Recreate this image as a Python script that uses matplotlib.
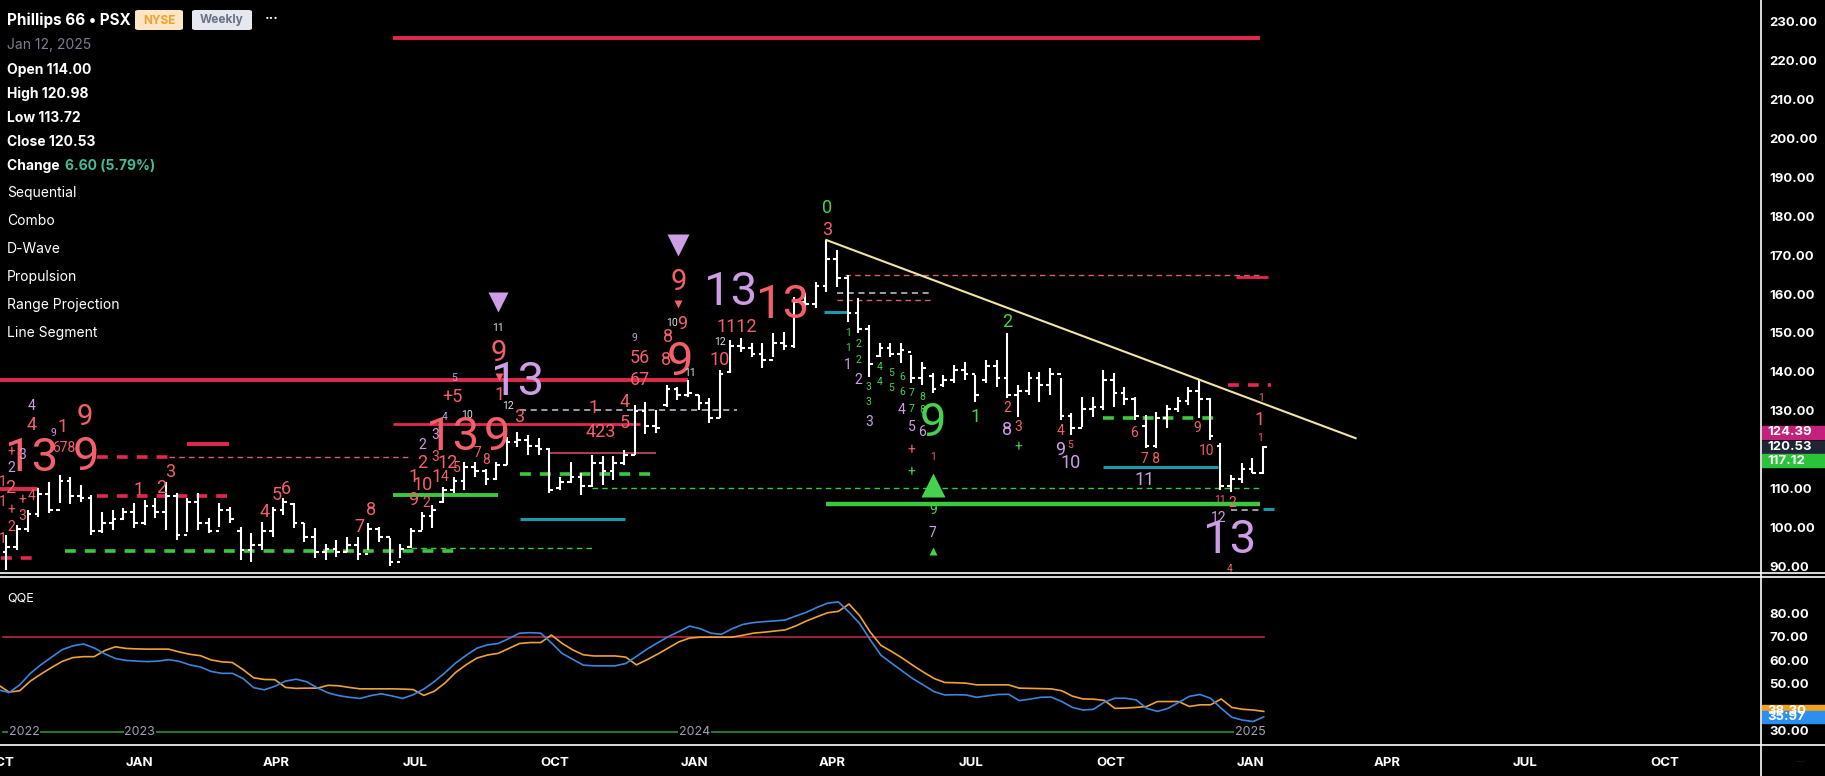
"""Phillips 66 weekly chart with TD counts and QQE panel."""

import datetime as dt

import matplotlib
matplotlib.use("Agg")
import matplotlib.pyplot as plt
import matplotlib.dates as mdates
import matplotlib.transforms as mtransforms
from matplotlib.lines import Line2D
from matplotlib.patches import FancyBboxPatch, Rectangle
import numpy as np

plt.rcParams["font.family"] = ["Inter", "DejaVu Sans"]

# ---- data -------------------------------------------------------------
FIRST_BAR = dt.date(2022, 9, 30)  # weekly bars, one per week

HIGHS = [95.0, 98.0, 100.6, 104.4, 110.0, 111.7, 113.4, 113.0, 110.8, 108.3,
         104.0, 104.4, 104.9, 106.1, 107.0, 107.4, 111.7, 108.7, 107.4, 108.7,
         102.3, 106.1, 105.3, 100.1, 98.4, 101.4, 105.3, 107.4, 106.1, 101.0,
         99.7, 95.8, 96.7, 97.6, 97.6, 101.0, 100.1, 97.1, 95.8, 99.7,
         104.0, 105.7, 110.4, 113.0, 116.9, 116.9, 115.1, 116.9, 123.3, 124.6,
         123.7, 122.9, 120.3, 113.0, 116.9, 113.9, 118.6, 118.2, 118.2, 119.9,
         131.4, 132.3, 130.2, 136.6, 136.2, 137.9, 134.0, 133.2, 140.5, 148.2,
         148.6, 147.3, 147.3, 149.9, 150.3, 159.3, 160.2, 163.2, 173.9, 171.3,
         164.9, 158.9, 152.0, 147.3, 147.3, 147.3, 144.3, 142.6, 139.6, 139.2,
         141.7, 142.6, 139.2, 143.0, 143.0, 149.9, 136.6, 140.0, 140.0, 140.9,
         138.3, 129.3, 133.6, 133.6, 140.5, 139.6, 136.2, 133.6, 128.9, 129.7,
         131.4, 133.6, 136.2, 137.9, 133.2, 121.6, 113.4, 116.4, 117.7, 120.98]
LOWS = [89.0, 89.0, 94.0, 98.8, 102.7, 103.6, 106.2, 106.0, 106.6, 98.0,
        98.4, 99.3, 101.9, 99.7, 100.6, 102.3, 99.3, 96.7, 98.8, 99.3,
        98.4, 100.1, 101.0, 91.6, 91.1, 94.1, 97.6, 103.1, 99.7, 96.3,
        92.0, 91.6, 92.4, 93.7, 91.6, 94.1, 96.3, 89.9, 92.0, 94.6,
        99.3, 99.7, 106.1, 108.7, 109.6, 113.0, 110.9, 112.2, 116.0, 120.7,
        118.6, 118.6, 108.7, 109.6, 111.3, 108.3, 110.4, 110.9, 112.2, 116.0,
        118.6, 124.0, 124.2, 131.0, 132.7, 133.6, 130.2, 126.7, 128.0, 139.6,
        145.2, 143.9, 140.9, 143.9, 145.6, 146.0, 155.9, 156.3, 160.6, 161.9,
        152.9, 149.9, 138.7, 143.9, 143.9, 142.2, 137.0, 136.6, 134.5, 136.2,
        137.0, 138.0, 132.3, 137.0, 136.2, 133.2, 128.4, 134.0, 132.3, 134.0,
        127.6, 123.7, 125.9, 128.4, 130.2, 131.0, 131.4, 127.6, 120.3, 120.3,
        125.4, 129.7, 131.4, 128.0, 122.4, 109.6, 109.1, 111.3, 113.9, 113.72]
OPENS = [90.5, 93.5, 95.0, 99.5, 103.5, 108.5, 104.5, 112.0, 108.0, 107.5,
         99.0, 101.0, 102.0, 104.0, 101.0, 105.5, 104.0, 108.0, 98.0, 106.5,
         101.0, 99.0, 104.5, 99.0, 94.0, 95.5, 99.0, 104.5, 106.0, 101.0,
         97.5, 93.5, 94.5, 93.5, 95.5, 93.0, 99.5, 97.5, 91.0, 95.0,
         99.0, 103.0, 106.5, 109.5, 112.0, 115.5, 114.5, 112.5, 116.0, 122.0,
         122.5, 121.0, 120.0, 110.0, 111.5, 113.0, 110.5, 116.5, 114.5, 116.5,
         118.5, 130.0, 126.0, 131.5, 135.5, 134.0, 134.0, 132.0, 128.0, 140.0,
         146.5, 146.0, 144.5, 143.0, 147.5, 146.5, 158.0, 157.5, 162.0, 169.0,
         164.0, 155.0, 151.0, 144.0, 146.0, 144.5, 145.0, 138.5, 139.0, 136.5,
         138.0, 140.5, 139.5, 138.0, 141.5, 138.5, 134.0, 135.0, 138.5, 136.5,
         139.5, 128.5, 125.5, 130.5, 131.0, 138.0, 134.5, 133.0, 126.0, 121.0,
         128.0, 130.5, 132.5, 135.0, 133.0, 121.0, 110.5, 112.5, 115.0, 114.00]
CLOSES = [93.5, 95.0, 99.5, 103.5, 108.5, 104.5, 112.0, 108.0, 107.5, 99.0,
          101.0, 102.0, 104.0, 101.0, 105.5, 104.0, 108.0, 98.0, 106.5, 101.0,
          99.0, 104.5, 102.0, 94.0, 95.5, 99.0, 104.5, 106.5, 101.0, 97.5,
          93.5, 94.5, 93.5, 95.5, 93.0, 99.5, 97.5, 91.0, 94.5, 99.0,
          103.0, 104.5, 109.5, 112.0, 115.5, 114.5, 112.5, 116.0, 122.0, 122.5,
          121.0, 120.0, 109.5, 111.5, 113.0, 110.5, 116.5, 114.5, 116.5, 118.5,
          130.0, 126.0, 125.5, 135.5, 134.0, 134.5, 132.0, 128.0, 139.5, 146.5,
          146.0, 144.5, 143.0, 147.5, 146.5, 158.0, 157.5, 162.0, 169.0, 164.0,
          155.0, 151.0, 142.0, 146.0, 144.5, 145.5, 138.5, 141.0, 135.5, 138.0,
          140.5, 139.5, 134.0, 141.5, 138.5, 134.0, 135.0, 138.5, 136.5, 139.5,
          128.5, 125.5, 130.5, 131.0, 138.0, 134.5, 133.0, 128.5, 121.0, 128.0,
          130.5, 132.5, 135.0, 133.0, 123.5, 110.5, 112.5, 115.0, 114.0, 120.53]

QQE_FAST = [47.5, 46.3, 49.6, 54.5, 58.2, 61.4, 64.6, 66.2, 67.0, 65.3,
            62.8, 60.8, 60.0, 59.7, 59.5, 59.7, 60.3, 59.6, 58.1, 57.2,
            55.3, 54.5, 54.5, 52.3, 48.4, 47.5, 49.0, 51.2, 52.0, 50.9,
            48.3, 46.2, 45.0, 44.3, 43.8, 45.0, 45.8, 44.9, 43.8, 45.4,
            47.8, 51.0, 54.8, 58.9, 62.2, 65.2, 66.6, 67.2, 69.3, 71.6,
            71.8, 71.6, 67.5, 63.0, 60.5, 58.0, 57.7, 57.7, 57.7, 58.7,
            61.7, 64.8, 67.5, 70.1, 72.3, 74.6, 73.5, 71.6, 71.1, 73.5,
            75.3, 76.1, 76.5, 76.8, 77.2, 78.9, 80.5, 82.6, 84.4, 84.9,
            80.5, 75.7, 68.7, 62.2, 58.8, 55.5, 52.2, 49.5, 46.7, 45.3,
            45.4, 45.3, 44.3, 44.9, 45.5, 45.6, 42.9, 43.5, 44.3, 44.4,
            42.5, 40.0, 38.9, 39.2, 42.2, 43.9, 43.9, 43.2, 39.6, 38.3,
            39.6, 42.1, 44.7, 45.5, 43.9, 39.6, 35.8, 34.6, 34.0, 35.97]
QQE_SLOW = [49.5, 46.5, 47.1, 51.2, 54.2, 57.0, 59.6, 61.2, 61.6, 61.6,
            64.2, 65.8, 65.1, 64.9, 64.8, 64.8, 64.8, 63.6, 62.6, 62.0,
            60.2, 59.4, 59.1, 56.1, 52.6, 51.9, 51.8, 48.5, 48.1, 48.2,
            48.2, 49.4, 49.2, 48.5, 47.9, 47.9, 47.9, 47.9, 47.8, 47.6,
            45.1, 46.9, 50.4, 54.9, 58.2, 61.0, 62.3, 63.0, 65.1, 67.2,
            67.6, 67.6, 70.8, 67.3, 64.5, 62.4, 61.9, 61.9, 61.9, 61.4,
            58.1, 60.3, 62.7, 65.3, 67.9, 69.5, 69.9, 69.9, 69.9, 69.9,
            70.7, 71.6, 72.0, 72.5, 73.0, 74.7, 76.8, 78.6, 80.3, 80.9,
            84.0, 79.0, 72.0, 66.4, 63.8, 61.0, 57.9, 55.0, 52.3, 50.6,
            50.5, 50.3, 49.6, 49.6, 49.6, 49.6, 48.2, 48.1, 48.0, 47.9,
            47.1, 44.8, 43.6, 43.5, 43.0, 39.6, 39.7, 40.0, 40.4, 42.5,
            42.5, 42.5, 40.4, 41.1, 41.1, 43.6, 40.0, 39.2, 38.9, 38.30]

# horizontal levels: (from bar, to bar, price, style)
LEVELS = [
    (37.3, 118.7, 225.8, "red_thick"),
    (-1.0, 65.0, 138.0, "red_thick"),
    (37.3, 60.5, 126.6, "red_mid"),
    (52.0, 62.0, 119.2, "red_thin"),
    (18.0, 21.9, 121.3, "red_thick"),
    (-1.0, 4.0, 109.9, "red_thick"),
    (9.5, 16.3, 118.1, "red_dash_thick"),
    (16.3, 39.0, 118.1, "pink_dash"),
    (9.5, 22.3, 108.1, "red_dash_thick"),
    (0.5, 3.8, 92.0, "red_dash_thick"),
    (6.5, 43.3, 93.9, "green_dash_thick"),
    (39.0, 56.0, 94.6, "green_dash"),
    (37.3, 47.2, 108.3, "green_solid"),
    (49.2, 59.1, 102.1, "teal"),
    (49.2, 61.5, 113.7, "green_dash_thick"),
    (56.0, 118.7, 110.0, "green_dash"),
    (49.2, 69.6, 130.2, "gray_dash"),
    (79.8, 118.7, 164.9, "pink_dash"),
    (116.5, 119.5, 164.5, "red_mid"),
    (79.0, 88.0, 160.3, "gray_dash"),
    (79.0, 88.0, 158.5, "pink_dash"),
    (77.8, 80.0, 155.4, "teal"),
    (78.0, 118.7, 105.9, "green_thick"),
    (104.0, 114.8, 115.5, "teal"),
    (104.0, 114.5, 128.1, "green_dash_thick"),
    (115.7, 119.8, 136.6, "red_dash_thick"),
    (116.0, 119.0, 104.4, "gray_dash"),
    (119.0, 120.0, 104.7, "teal"),
]

# trend line (bar index, price)
TREND_BARS = [78.0, 127.7]
TREND_PRICES = [173.9, 122.9]

# count labels: (bar, price, text, colour, size)
COUNTS = [
    (3.4, 117.8, "13", "red", "xl"), (8.5, 118.1, "9", "red", "xl"),
    (8.4, 128.4, "9", "red", "l"), (3.4, 126.3, "4", "red", "m"),
    (3.4, 131.2, "4", "purple", "s"), (6.3, 125.8, "1", "red", "m"),
    (5.4, 124.2, "9", "purple", "xs"), (6.4, 120.4, "678", "red", "s"),
    (16.4, 114.2, "3", "red", "m"), (13.4, 109.6, "1", "red", "m"),
    (15.5, 110.1, "2", "red", "m"), (26.4, 108.3, "5", "red", "m"),
    (27.3, 109.8, "6", "red", "m"), (25.3, 103.9, "4", "red", "m"),
    (1.5, 115.2, "2", "purple", "s"), (2.5, 118.6, "3", "purple", "s"),
    (1.4, 110.1, "2", "red", "m"), (3.4, 108.0, "4", "red", "s"),
    (2.5, 102.9, "3", "red", "s"), (1.5, 100.0, "2", "red", "s"),
    (1.5, 104.4, "+", "red", "s"), (2.5, 107.0, "+", "red", "s"),
    (1.5, 119.4, "+", "red", "s"), (0.7, 111.6, "1", "red", "s"),
    (0.7, 106.5, "1", "red", "s"), (0.7, 97.0, "1", "red", "s"),
    (47.2, 151.3, "11", "white", "xs"), (47.2, 144.8, "9", "red", "l"),
    (49.0, 137.4, "13", "purple", "xl"), (47.3, 134.0, "1", "red", "m"),
    (48.1, 131.2, "12", "white", "xs"), (43.1, 138.4, "5", "purple", "xs"),
    (42.9, 133.5, "+5", "red", "m"), (42.2, 128.4, "4", "purple", "xs"),
    (44.3, 128.9, "10", "white", "xs"), (42.9, 123.2, "13", "red", "xl"),
    (47.1, 123.2, "9", "red", "xl"), (49.2, 128.4, "3", "red", "m"),
    (56.1, 130.7, "1", "red", "m"), (59.1, 132.2, "4", "red", "m"),
    (56.8, 124.5, "423", "red", "m"), (59.1, 126.8, "5", "red", "m"),
    (60.5, 143.5, "56", "red", "m"), (60.5, 137.9, "67", "red", "m"),
    (60.0, 148.7, "9", "purple", "xs"), (40.1, 110.9, "10", "red", "m"),
    (39.2, 107.0, "9", "red", "m"), (40.4, 106.3, "2", "red", "s"),
    (35.3, 104.4, "8", "red", "m"), (34.2, 100.0, "7", "red", "m"),
    (40.1, 121.2, "2", "purple", "s"), (41.3, 123.7, "3", "purple", "s"),
    (40.1, 116.5, "2", "red", "m"), (41.3, 118.0, "3", "red", "s"),
    (42.4, 116.5, "12", "red", "m"), (39.2, 112.9, "1", "red", "m"),
    (41.4, 112.9, "1", "red", "m"), (42.2, 112.9, "4", "red", "s"),
    (43.3, 115.2, "5", "red", "s"), (46.1, 117.3, "8", "red", "s"),
    (45.2, 119.0, "7", "red", "s"),
    (64.1, 163.1, "9", "red", "l"), (63.5, 152.5, "10", "white", "xs"),
    (64.5, 152.3, "9", "red", "m"), (63.1, 148.9, "8", "red", "m"),
    (64.3, 142.5, "9", "red", "xl"), (63.0, 143.0, "8", "red", "m"),
    (65.2, 139.7, "11", "white", "xs"), (69.0, 160.5, "13", "purple", "xl"),
    (73.9, 157.2, "13", "red", "xl"), (69.6, 151.5, "1112", "red", "m"),
    (68.0, 147.7, "12", "white", "xs"), (68.0, 143.0, "10", "red", "m"),
    (78.1, 182.1, "0", "green", "m"), (78.1, 176.5, "3", "red", "m"),
    (80.0, 150.0, "1", "green", "xs"), (80.0, 146.1, "1", "green", "xs"),
    (81.0, 147.1, "2", "green", "xs"), (81.0, 143.0, "2", "green", "xs"),
    (82.0, 136.1, "3", "green", "xs"), (82.0, 132.2, "3", "green", "xs"),
    (83.0, 141.2, "4", "green", "xs"), (83.0, 137.4, "4", "green", "xs"),
    (84.1, 139.7, "5", "green", "xs"), (84.1, 135.8, "5", "green", "xs"),
    (85.1, 138.6, "6", "green", "xs"), (85.1, 134.8, "6", "green", "xs"),
    (86.0, 134.5, "7", "green", "xs"), (87.0, 133.5, "8", "green", "xs"),
    (86.0, 130.5, "7", "green", "xs"), (87.0, 130.2, "8", "green", "xs"),
    (80.0, 141.7, "1", "purple", "s"), (81.0, 137.9, "2", "purple", "s"),
    (82.0, 127.1, "3", "purple", "s"), (85.1, 130.2, "4", "purple", "s"),
    (86.0, 125.8, "5", "purple", "s"), (87.0, 124.5, "6", "purple", "s"),
    (88.0, 126.8, "9", "green", "xl"), (86.0, 119.9, "+", "red", "s"),
    (86.0, 114.2, "+", "green", "s"), (88.0, 118.1, "1", "red", "xs"),
    (88.0, 104.4, "9", "green", "s"), (88.0, 98.5, "7", "purple", "s"),
    (95.0, 152.8, "2", "green", "m"), (92.0, 128.4, "1", "green", "m"),
    (95.0, 130.7, "2", "red", "s"), (95.0, 125.0, "8", "purple", "m"),
    (96.0, 125.8, "3", "red", "s"), (96.0, 120.6, "+", "green", "s"),
    (100.0, 124.8, "4", "red", "s"), (100.9, 121.2, "5", "red", "xs"),
    (100.0, 119.9, "9", "purple", "m"), (100.9, 116.5, "10", "purple", "m"),
    (106.9, 124.2, "6", "red", "s"), (108.4, 117.5, "7 8", "red", "s"),
    (107.9, 112.1, "11", "purple", "m"), (112.8, 125.5, "9", "red", "s"),
    (113.7, 119.6, "10", "red", "s"), (118.7, 127.6, "1", "red", "m"),
    (118.7, 122.9, "1", "red", "xs"), (118.8, 133.2, "1", "red", "xs"),
    (115.0, 107.0, "11", "red", "xs"), (116.1, 106.2, "2", "red", "s"),
    (114.8, 102.4, "12", "purple", "s"), (115.9, 96.7, "13", "purple", "xl"),
    (115.9, 89.2, "4", "red", "xs"),
]

# triangles: (bar, price, marker, colour, size in pt)
MARKERS = [
    (47.2, 158.0, "v", "purple", 15),
    (47.3, 138.6, "v", "red", 6),
    (64.1, 172.6, "v", "purple", 16),
    (64.1, 157.4, "v", "red", 6),
    (88.0, 110.9, "^", "green", 17),
    (88.0, 93.9, "^", "green", 6),
]

PRICE_TAGS = [(124.39, "#c4217c"), (120.53, "#1e2633"), (117.12, "#2cc23a")]
QQE_TAGS = [(38.30, "#f5a11c"), (35.97, "#2b8ef0")]

MONTH_TICKS = [dt.date(y, m, 1) for y in (2022, 2023, 2024, 2025)
               for m in (1, 4, 7, 10) if dt.date(2022, 10, 1) <= dt.date(y, m, 1)]
YEAR_MARKS = [(dt.date(2022, 10, 17), "2022"), (dt.date(2023, 1, 1), "2023"),
              (dt.date(2024, 1, 1), "2024"), (dt.date(2025, 1, 1), "2025")]

COLORS = {"red": "#f3606b", "purple": "#cd9ee6", "green": "#45d24e",
          "white": "#e0e0ee"}
SIZES = {"xl": 34, "l": 21, "m": 13, "s": 10, "xs": 7.5}
STYLES = {
    "red_thick": dict(color="#e3284d", lw=2.8, ls="-"),
    "red_mid": dict(color="#e3284d", lw=2.0, ls="-"),
    "red_thin": dict(color="#e0506a", lw=1.1, ls="-"),
    "red_dash_thick": dict(color="#e3284d", lw=2.6, ls=(0, (3, 2.5))),
    "pink_dash": dict(color="#d45f79", lw=1.0, ls=(0, (4, 3))),
    "green_dash_thick": dict(color="#3cc83c", lw=2.6, ls=(0, (3, 2.5))),
    "green_dash": dict(color="#3cc83c", lw=1.0, ls=(0, (4, 3))),
    "green_solid": dict(color="#3cc83c", lw=2.8, ls="-"),
    "green_thick": dict(color="#3cc83c", lw=3.2, ls="-"),
    "teal": dict(color="#1d98aa", lw=2.2, ls="-"),
    "gray_dash": dict(color="#c8c8d8", lw=1.1, ls=(0, (4, 3))),
}

# ---- helpers -------------------------------------------------------------
W, H = 1825, 776
BASE = mdates.date2num(FIRST_BAR)


def bx(i):
    """Bar index (may be fractional) to date number."""
    return BASE + 7 * np.asarray(i, dtype=float)


def fx(px):
    return px / W


def fy(py):
    return 1 - py / H


fig = plt.figure(figsize=(W / 100, H / 100), dpi=100, facecolor="black")
ax = fig.add_axes([0, fy(573), fx(1761), 573 / H], facecolor="black")
ax2 = fig.add_axes([0, fy(745), fx(1761), (745 - 577) / H], facecolor="black")

xlim = (bx(0.41), bx(165.77))
for a in (ax, ax2):
    a.set_xlim(*xlim)
    for s in a.spines.values():
        s.set_visible(False)
ax.set_ylim(88.21, 235.66)
ax2.set_ylim(24.0, 95.5)

# ---- price bars ---------------------------------------------------------
xs = bx(np.arange(len(HIGHS)))
ax.vlines(xs, LOWS, HIGHS, color="white", lw=1.5, zorder=3)
ax.hlines(OPENS, xs - 2.4, xs, color="white", lw=1.5, zorder=3)
ax.hlines(CLOSES, xs, xs + 2.4, color="white", lw=1.5, zorder=3)

for b0, b1, price, kind in LEVELS:
    st = STYLES[kind]
    ax.plot([bx(b0), bx(b1)], [price, price], color=st["color"], lw=st["lw"],
            ls=st["ls"], solid_capstyle="butt", zorder=2)

ax.plot(bx(TREND_BARS), TREND_PRICES, color="#f3e4a2", lw=1.5, zorder=4)

for b, price, txt, col, size in COUNTS:
    ax.text(bx(b), price, txt, color=COLORS[col], fontsize=SIZES[size],
            ha="center", va="center", family=["Roboto", "DejaVu Sans"],
            fontweight="normal", zorder=5)

for b, price, mk, col, ms in MARKERS:
    ax.plot(bx(b), price, marker=mk, ms=ms, color=COLORS[col], mec="none",
            zorder=5)

# right price scale
ax.yaxis.tick_right()
ax.set_yticks([t for t in range(90, 231, 10) if t != 120])
ax.set_yticklabels([f"{t:.2f}" for t in range(90, 231, 10) if t != 120])
ax.tick_params(axis="y", length=0, pad=6, labelcolor="white", labelsize=9.5)
ax.tick_params(axis="x", bottom=False, labelbottom=False)
for lab in ax.get_yticklabels():
    lab.set_fontweight("bold")

tag_tr = mtransforms.blended_transform_factory(fig.transFigure, ax.transData)
for price, col in PRICE_TAGS:
    ax.add_patch(Rectangle((fx(1762), price - 1.65), fx(63), 3.3,
                           transform=tag_tr, color=col, clip_on=False,
                           zorder=6))
    ax.text(fx(1767), price, f"{price:.2f}", transform=tag_tr, color="white",
            fontsize=9.5, fontweight="bold", va="center", ha="left",
            clip_on=False, zorder=7)

# ---- QQE panel ----------------------------------------------------------
ax2.plot([xlim[0], xs[-1]], [70, 70], color="#b52a40", lw=1.2)
ax2.plot([xlim[0], mdates.date2num(YEAR_MARKS[-1][0])], [29.6, 29.6],
         color="#2f8f38", lw=1.2)
for d, lab in YEAR_MARKS:
    ax2.text(mdates.date2num(d), 29.6, lab, color="#9ea2b6", fontsize=9,
             ha="center", va="center",
             bbox=dict(fc="black", ec="none", pad=0.5))
ax2.plot(xs, QQE_SLOW, color="#f0a236", lw=1.2)
ax2.plot(xs, QQE_FAST, color="#3a86dc", lw=1.2)

ax2.yaxis.tick_right()
ax2.set_yticks([30, 50, 60, 70, 80])
ax2.set_yticklabels(["30.00", "50.00", "60.00", "70.00", "80.00"])
ax2.tick_params(axis="y", length=0, pad=6, labelcolor="white", labelsize=9.5)
for lab in ax2.get_yticklabels():
    lab.set_fontweight("bold")

qtag_tr = mtransforms.blended_transform_factory(fig.transFigure, ax2.transData)
for val, col in QQE_TAGS:
    ax2.add_patch(Rectangle((fx(1762), val - 2.6), fx(63), 5.2,
                            transform=qtag_tr, color=col, clip_on=False,
                            zorder=6))
    ax2.text(fx(1767), val, f"{val:.2f}", transform=qtag_tr, color="white",
             fontsize=9.5, fontweight="bold", va="center", ha="left",
             clip_on=False, zorder=7)

ax2.set_xticks([mdates.date2num(d) for d in MONTH_TICKS])
ax2.set_xticklabels([d.strftime("%b").upper() for d in MONTH_TICKS])
ax2.tick_params(axis="x", length=0, pad=9, labelcolor="white", labelsize=9.5)
for lab in ax2.get_xticklabels():
    lab.set_fontweight("bold")

# ---- frame lines --------------------------------------------------------
for y in (573, 577, 745):
    fig.add_artist(Line2D([0, 1], [fy(y), fy(y)], color="white", lw=1.2,
                          transform=fig.transFigure))
fig.add_artist(Line2D([fx(1761), fx(1761)], [0, 1], color="white", lw=1.2,
                      transform=fig.transFigure))

# ---- header -------------------------------------------------------------
fig.text(fx(7), fy(20), "Phillips 66 • PSX", color="white", fontsize=11,
         fontweight="bold", va="center")
for x0, w, txt, fc, tc in ((135, 48, "NYSE", "#fde6c4", "#f2a02e"),
                           (192, 60, "Weekly", "#e6e8ef", "#6c7084")):
    fig.add_artist(FancyBboxPatch((fx(x0), fy(30)), fx(w), 20 / H,
                                  boxstyle="round,pad=0,rounding_size=0.002",
                                  transform=fig.transFigure, fc=fc, ec="none"))
    fig.text(fx(x0 + w / 2), fy(20.5), txt, color=tc, fontsize=8.5,
             fontweight="bold", ha="center", va="center")
fig.text(fx(272), fy(19), "···", color="white", fontsize=10,
         fontweight="bold", ha="center", va="center")
fig.text(fx(7), fy(45), "Jan 12, 2025", color="#7c7f90", fontsize=10,
         va="center")
for y, lab, val in ((70, "Open", "114.00"), (94, "High", "120.98"),
                    (118, "Low", "113.72"), (142, "Close", "120.53")):
    fig.text(fx(7), fy(y), f"{lab} {val}", color="white", fontsize=10,
             fontweight="bold", va="center")
fig.text(fx(7), fy(166), "Change ", color="white", fontsize=10,
         fontweight="bold", va="center")
fig.text(fx(65), fy(166), "6.60 (5.79%)", color="#3fbf9c", fontsize=10,
         fontweight="bold", va="center")
for y, lab in ((193, "Sequential"), (221, "Combo"), (249, "D-Wave"),
               (277, "Propulsion"), (305, "Range Projection"),
               (333, "Line Segment")):
    fig.text(fx(7), fy(y), lab, color="white", fontsize=10, va="center")

fig.text(fx(7), fy(599), "QQE", color="white", fontsize=9, va="center")
fig.text(fx(1800), fy(762), "···", color="#3a3a3a", fontsize=8,
         ha="center", va="center")

fig.savefig("out.png", dpi=100, facecolor="black")
